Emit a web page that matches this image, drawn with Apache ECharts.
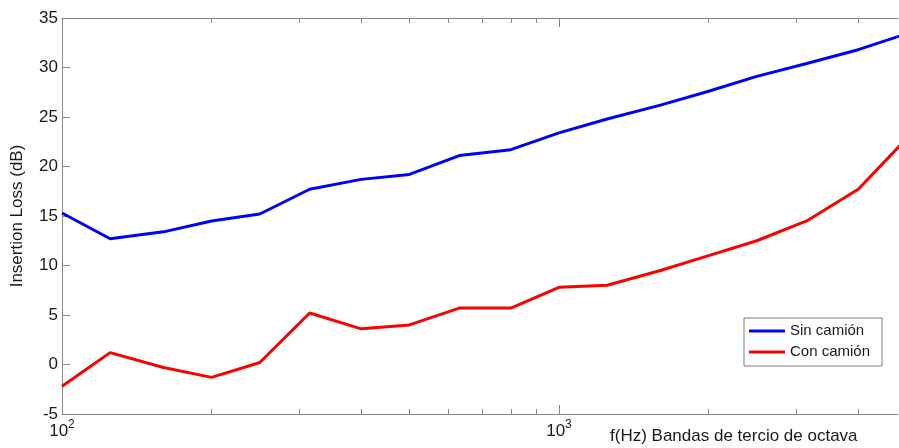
<!DOCTYPE html>
<html>
<head>
<meta charset="utf-8">
<script src="https://cdn.jsdelivr.net/npm/echarts@6/dist/echarts.min.js"></script>
<style>
  html, body { margin: 0; padding: 0; background: #fff; }
  #chart { width: 899px; height: 448px; }
</style>
</head>
<body>
<div id="chart"></div>
<script>
// Third-octave band centre frequencies (Hz)
const freqs = [100, 125, 160, 200, 250, 315, 400, 500, 630, 800, 1000, 1250, 1600, 2000, 2500, 3150, 4000, 5000];
// Insertion loss (dB) per band
const sinCamion = [15.3, 12.7, 13.4, 14.5, 15.2, 17.7, 18.7, 19.2, 21.1, 21.7, 23.4, 24.8, 26.2, 27.6, 29.1, 30.4, 31.8, 33.4];
const conCamion = [-2.2, 1.2, -0.3, -1.3, 0.2, 5.2, 3.6, 4.0, 5.7, 5.7, 7.8, 8.0, 9.5, 11.0, 12.5, 14.5, 17.7, 22.8];

const seriesNames = ['Sin camión', 'Con camión'];
const majorTicks = [100, 1000];
const minorTicks = [200, 300, 400, 500, 600, 700, 800, 900, 2000, 3000, 4000];
const yTicks = [-5, 0, 5, 10, 15, 20, 25, 30, 35];

const X_MIN = 100, X_MAX = 4810;
const axisGray = '#8a8a8a';
const textColor = '#1a1a1a';
const fontFamily = 'Liberation Sans, Arial, sans-serif';

const pairs = (ys) => freqs.map((f, i) => [f, ys[i]]);

function logAxis(position, ticks, len, withLine, withLabels) {
  return {
    type: 'log',
    logBase: 10,
    min: X_MIN,
    max: X_MAX,
    position: position,
    axisLine: { show: withLine, onZero: false, lineStyle: { color: axisGray, width: 1 } },
    axisTick: { show: true, inside: true, length: len, customValues: ticks, lineStyle: { color: axisGray, width: 1 } },
    minorTick: { show: false },
    splitLine: { show: false },
    axisLabel: withLabels ? {
      show: true,
      customValues: majorTicks,
      margin: 5,
      formatter: (v) => '{b|10}{s|' + Math.round(Math.log10(v)) + '}',
      rich: {
        b: { fontSize: 17, fontFamily: fontFamily, color: textColor, verticalAlign: 'bottom' },
        s: { fontSize: 12, fontFamily: fontFamily, color: textColor, verticalAlign: 'bottom', padding: [0, 0, 9, 0] }
      }
    } : { show: false }
  };
}

const chart = echarts.init(document.getElementById('chart'), null, { renderer: 'canvas' });
chart.setOption({
  animation: false,
  backgroundColor: '#fff',
  grid: { left: 62, right: 1, top: 18, bottom: 34, containLabel: false },
  xAxis: [
    logAxis('bottom', majorTicks, 9, true, true),
    logAxis('bottom', minorTicks, 5, false, false),
    logAxis('top', majorTicks, 9, true, false),
    logAxis('top', minorTicks, 5, false, false)
  ],
  yAxis: {
    type: 'value',
    min: -5,
    max: 35,
    interval: 5,
    name: 'Insertion Loss (dB)',
    nameLocation: 'middle',
    nameGap: 36,
    nameTextStyle: { fontSize: 17, fontFamily: fontFamily, color: textColor },
    axisLine: { show: true, onZero: false, lineStyle: { color: axisGray, width: 1 } },
    axisTick: { show: true, inside: true, length: 8, lineStyle: { color: axisGray } },
    splitLine: { show: false },
    axisLabel: { fontSize: 17, fontFamily: fontFamily, color: textColor, margin: 4,
      customValues: yTicks }
  },
  legend: {
    orient: 'vertical',
    left: 744,
    top: 318,
    data: seriesNames,
    icon: 'rect',
    itemWidth: 36,
    itemHeight: 3,
    itemGap: 5,
    padding: [5, 12, 6, 5],
    borderColor: '#7a7a7a',
    borderWidth: 1,
    backgroundColor: '#fff',
    textStyle: { fontSize: 15, fontFamily: fontFamily, color: textColor, lineHeight: 16 }
  },
  graphic: [{
    type: 'text',
    left: 610,
    top: 428,
    style: { text: 'f(Hz) Bandas de tercio de octava', fontSize: 17, fontFamily: fontFamily, fill: textColor }
  }],
  series: [
    {
      name: seriesNames[0], type: 'line', xAxisIndex: 0, data: pairs(sinCamion),
      showSymbol: false, symbol: 'none', clip: true,
      lineStyle: { color: '#0000ff', width: 3 }, itemStyle: { color: '#0000ff' }
    },
    {
      name: seriesNames[1], type: 'line', xAxisIndex: 0, data: pairs(conCamion),
      showSymbol: false, symbol: 'none', clip: true,
      lineStyle: { color: '#ff0000', width: 3 }, itemStyle: { color: '#ff0000' }
    }
  ]
});
</script>
</body>
</html>
